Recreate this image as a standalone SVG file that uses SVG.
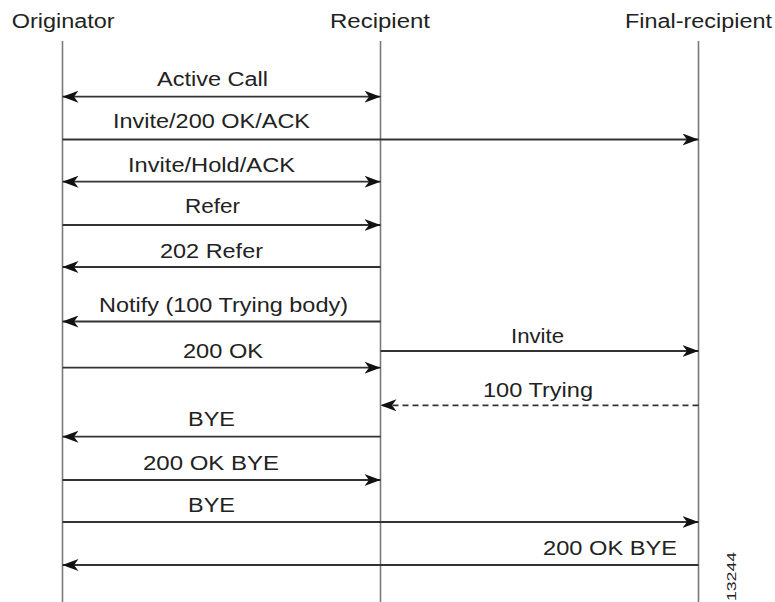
<svg xmlns="http://www.w3.org/2000/svg" width="775" height="602" viewBox="0 0 775 602">
<style>
text{font-family:"Liberation Sans",Arial,sans-serif;font-size:20px;fill:#222}
.life{stroke:#7a7a7a;stroke-width:1.6;fill:none}
.msg{stroke:#333;stroke-width:1.8;fill:none;marker-end:url(#ah)}
.both{marker-start:url(#ah)}
.dash{stroke-dasharray:6 4}
.fig{font-size:13px}
</style>
<defs>
<marker id="ah" viewBox="0 0 16 12" refX="16" refY="6" markerWidth="16" markerHeight="12" markerUnits="userSpaceOnUse" orient="auto-start-reverse">
<path d="M0,0 L16,6 L0,12 L4.5,6 Z" fill="#111"/>
</marker>
</defs>
<g id="originator">
<text x="11.7" y="28" textLength="103" lengthAdjust="spacingAndGlyphs">Originator</text>
<line class="life" x1="62.5" y1="41" x2="62.5" y2="602"/>
</g>
<g id="recipient">
<text x="330" y="28" textLength="100" lengthAdjust="spacingAndGlyphs">Recipient</text>
<line class="life" x1="380.5" y1="41" x2="380.5" y2="602"/>
</g>
<g id="final-recipient">
<text x="625" y="28" textLength="147" lengthAdjust="spacingAndGlyphs">Final-recipient</text>
<line class="life" x1="698.5" y1="41" x2="698.5" y2="602"/>
</g>
<g id="connectors">
<line class="msg both" x1="62.5" y1="96.7" x2="380.5" y2="96.7"/>
<line class="msg" x1="62.5" y1="139.5" x2="698.5" y2="139.5"/>
<line class="msg both" x1="62.5" y1="181.7" x2="380.5" y2="181.7"/>
<line class="msg" x1="62.5" y1="225" x2="380.5" y2="225"/>
<line class="msg" x1="380.5" y1="267" x2="62.5" y2="267"/>
<line class="msg" x1="380.5" y1="321.5" x2="62.5" y2="321.5"/>
<line class="msg" x1="380.5" y1="351" x2="698.5" y2="351"/>
<line class="msg" x1="62.5" y1="367.7" x2="380.5" y2="367.7"/>
<line class="msg dash" x1="698.5" y1="405.3" x2="380.5" y2="405.3"/>
<line class="msg" x1="380.5" y1="436.7" x2="62.5" y2="436.7"/>
<line class="msg" x1="62.5" y1="480" x2="380.5" y2="480"/>
<line class="msg" x1="62.5" y1="522" x2="698.5" y2="522"/>
<line class="msg" x1="698.5" y1="565" x2="62.5" y2="565"/>
</g>
<g id="labels">
<text x="157" y="86" textLength="111" lengthAdjust="spacingAndGlyphs">Active Call</text>
<text x="113" y="128" textLength="197" lengthAdjust="spacingAndGlyphs">Invite/200 OK/ACK</text>
<text x="128" y="171.5" textLength="167" lengthAdjust="spacingAndGlyphs">Invite/Hold/ACK</text>
<text x="185" y="213" textLength="55" lengthAdjust="spacingAndGlyphs">Refer</text>
<text x="160" y="258" textLength="103" lengthAdjust="spacingAndGlyphs">202 Refer</text>
<text x="99" y="311.5" textLength="249" lengthAdjust="spacingAndGlyphs">Notify (100 Trying body)</text>
<text x="511" y="342.5" textLength="53" lengthAdjust="spacingAndGlyphs">Invite</text>
<text x="183" y="358" textLength="80" lengthAdjust="spacingAndGlyphs">200 OK</text>
<text x="483" y="396.5" textLength="110" lengthAdjust="spacingAndGlyphs">100 Trying</text>
<text x="188" y="426" textLength="47" lengthAdjust="spacingAndGlyphs">BYE</text>
<text x="143" y="470" textLength="136" lengthAdjust="spacingAndGlyphs">200 OK BYE</text>
<text x="188" y="511.7" textLength="47" lengthAdjust="spacingAndGlyphs">BYE</text>
<text x="543" y="555" textLength="134" lengthAdjust="spacingAndGlyphs">200 OK BYE</text>
<text class="fig" transform="translate(736,601) rotate(-90)" textLength="49" lengthAdjust="spacingAndGlyphs">13244</text>
</g>
</svg>
